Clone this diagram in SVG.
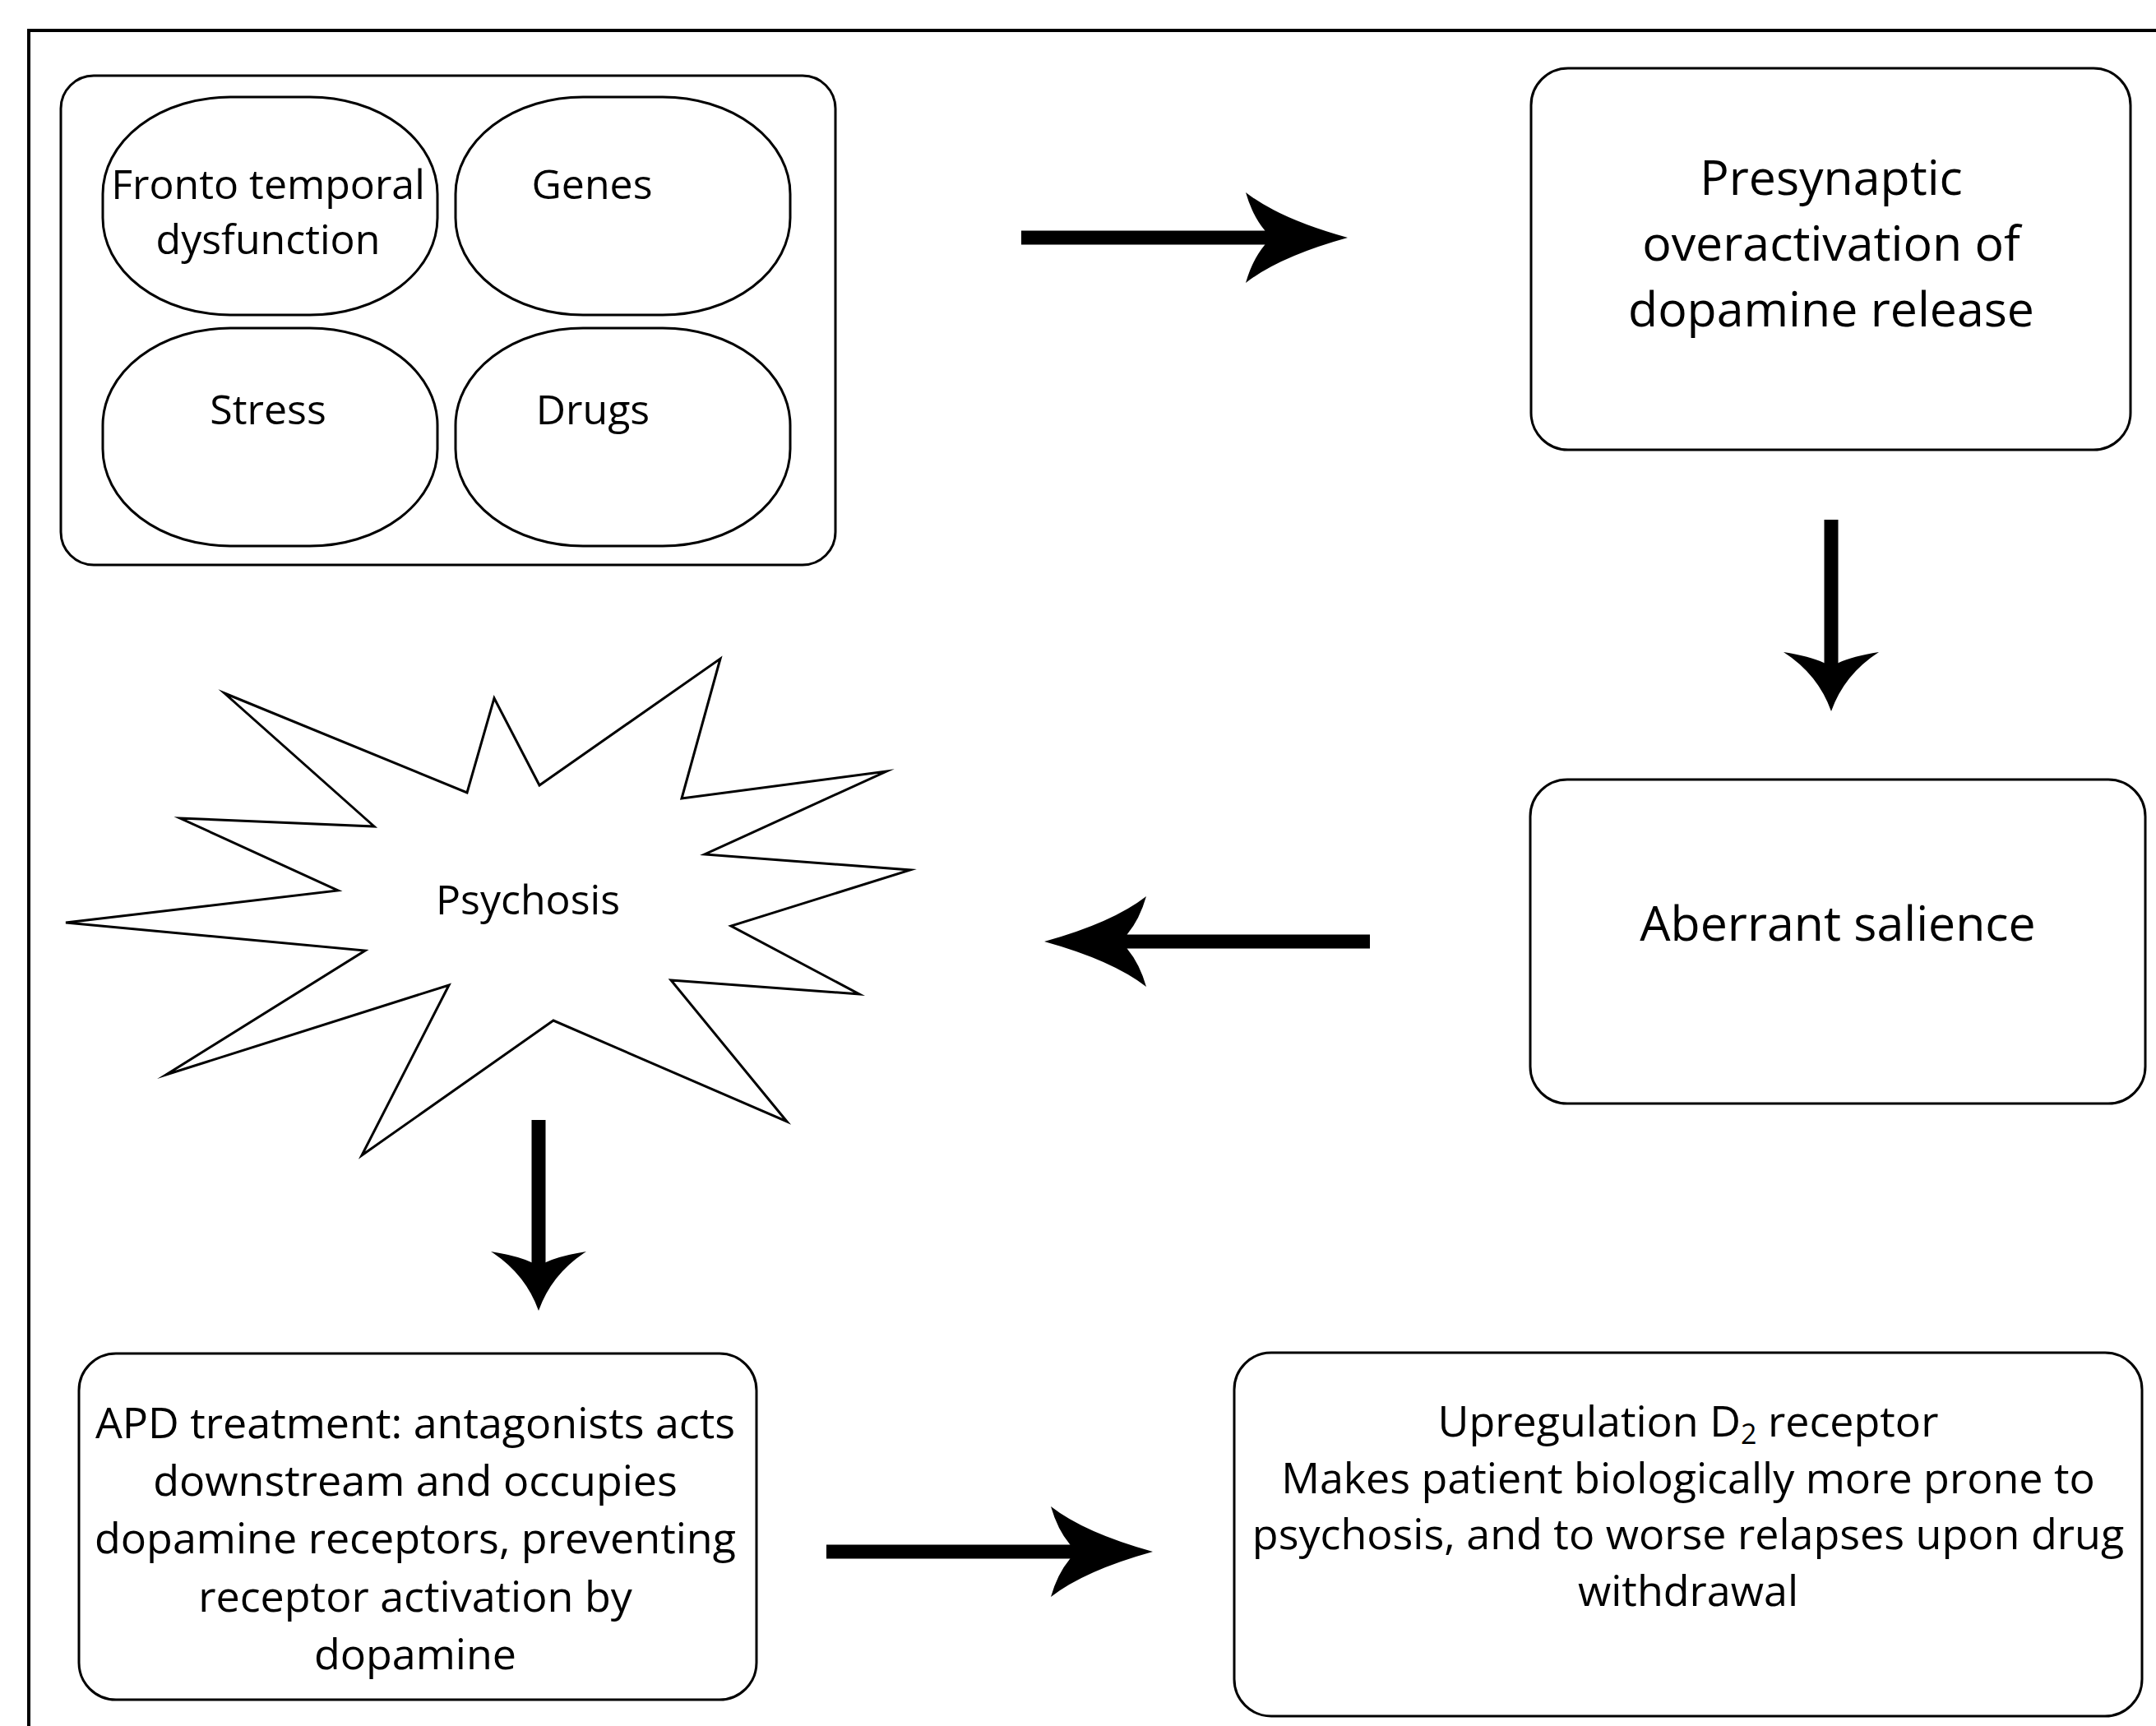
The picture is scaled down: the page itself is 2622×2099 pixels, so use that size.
<svg xmlns="http://www.w3.org/2000/svg" width="2622" height="2099" viewBox="0 0 2622 2099">
<style>
.box{fill:#fff;stroke:#000;stroke-width:3}
.t{font-family:"Open Sans","Liberation Sans",sans-serif;fill:#000;text-anchor:middle}
.s{font-size:50px}
.m{font-size:52px}
.b{font-size:59px}
.shaft{stroke:#000;stroke-width:17;fill:none}
</style>
<defs>
<marker id="hh" markerUnits="userSpaceOnUse" orient="auto" viewBox="-130 -60 135 120" markerWidth="135" markerHeight="120" refX="-60" refY="0" overflow="visible">
<path d="M0,0 Q-83,-23 -124,-55 Q-116,-27 -101,-9 L-96,0 L-101,9 Q-116,27 -124,55 Q-83,23 0,0 Z" fill="#000"/>
</marker>
<marker id="hv" markerUnits="userSpaceOnUse" orient="auto" viewBox="-80 -62 85 124" markerWidth="85" markerHeight="124" refX="-35" refY="0" overflow="visible">
<path d="M0,0 Q-45,-16 -72,-58 Q-67,-26 -59,-9 L-55,0 L-59,9 Q-67,26 -72,58 Q-45,16 0,0 Z" fill="#000"/>
</marker>
</defs>
<rect x="0" y="0" width="2622" height="2099" fill="#fff"/>
<rect id="frame" x="35" y="37" width="2700" height="2200" fill="none" stroke="#000" stroke-width="4"/>

<g id="causes">
<rect class="box" x="74" y="92" width="942" height="595" rx="40" ry="40"/>
<g id="fronto">
<rect class="box" x="125" y="118" width="407" height="265" rx="155" ry="118"/>
<text class="t s" x="326" y="242">Fronto temporal</text>
<text class="t s" x="326" y="309">dysfunction</text>
</g>
<g id="genes">
<rect class="box" x="554" y="118" width="407" height="265" rx="155" ry="118"/>
<text class="t s" x="720" y="242">Genes</text>
</g>
<g id="stress">
<rect class="box" x="125" y="399" width="407" height="265" rx="155" ry="118"/>
<text class="t s" x="326" y="516">Stress</text>
</g>
<g id="drugs">
<rect class="box" x="554" y="399" width="407" height="265" rx="155" ry="118"/>
<text class="t s" x="721" y="516">Drugs</text>
</g>
</g>

<g id="presynaptic">
<rect class="box" x="1862" y="83" width="729" height="464" rx="45" ry="45"/>
<text class="t b" x="2227" y="237">Presynaptic</text>
<text class="t b" x="2227" y="317">overactivation of</text>
<text class="t b" x="2227" y="397">dopamine release</text>
</g>

<g id="aberrant">
<rect class="box" x="1861" y="948" width="748" height="394" rx="45" ry="45"/>
<text class="t b" x="2235" y="1144">Aberrant salience</text>
</g>

<g id="psychosis">
<polygon class="box" stroke-miterlimit="8" points="273,843 568,964 601,849 656,955 876,801 829,971 1078,938 857,1039 1107,1058 889,1126 1045,1209 816,1192 957,1364 673,1241 440,1405 546,1198 202,1307 444,1156 80,1122 411,1083 219,995 455,1005"/>
<text class="t s" x="642" y="1112">Psychosis</text>
</g>

<g id="apd">
<rect class="box" x="96" y="1646" width="824" height="421" rx="45" ry="45"/>
<text class="t m" x="505" y="1749">APD treatment: antagonists acts</text>
<text class="t m" x="505" y="1819">downstream and occupies</text>
<text class="t m" x="505" y="1889">dopamine receptors, preventing</text>
<text class="t m" x="505" y="1960">receptor activation by</text>
<text class="t m" x="505" y="2030">dopamine</text>
</g>

<g id="upregulation">
<rect class="box" x="1501" y="1645" width="1104" height="442" rx="45" ry="45"/>
<text class="t m" x="2053" y="1747">Upregulation D<tspan font-size="34" baseline-shift="-9">2</tspan> receptor</text>
<text class="t m" x="2053" y="1816">Makes patient biologically more prone to</text>
<text class="t m" x="2053" y="1884">psychosis, and to worse relapses upon drug</text>
<text class="t m" x="2053" y="1953">withdrawal</text>
</g>

<g id="connectors">
<line class="shaft" x1="1242" y1="289" x2="1579" y2="289" marker-end="url(#hh)"/>
<line class="shaft" x1="2227" y1="632" x2="2227" y2="830" marker-end="url(#hv)"/>
<line class="shaft" x1="1666" y1="1145" x2="1330" y2="1145" marker-end="url(#hh)"/>
<line class="shaft" x1="655" y1="1362" x2="655" y2="1559" marker-end="url(#hv)"/>
<line class="shaft" x1="1005" y1="1887" x2="1342" y2="1887" marker-end="url(#hh)"/>
</g>
</svg>
